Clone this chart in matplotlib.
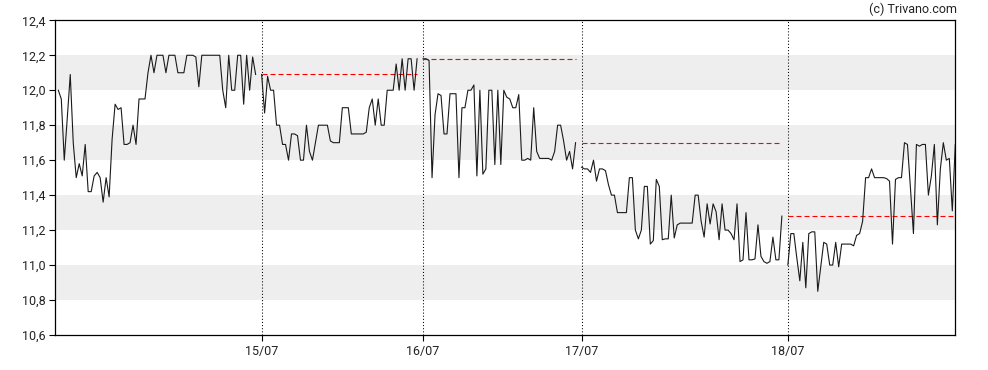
import numpy as np
import matplotlib
matplotlib.use("Agg")
import matplotlib.pyplot as plt

# ---- data ----
days = ["14/07", "15/07", "16/07", "17/07", "18/07"]

day14 = [12.00, 11.95, 11.60, 11.84, 12.09, 11.70, 11.50, 11.58, 11.51, 11.69,
         11.42, 11.42, 11.51, 11.53, 11.50, 11.36, 11.50, 11.39, 11.72, 11.92,
         11.89, 11.90, 11.69, 11.69, 11.70, 11.80, 11.69, 11.95, 11.95, 11.95,
         12.10, 12.20, 12.10, 12.20, 12.20, 12.20, 12.10, 12.20, 12.20, 12.20,
         12.10, 12.10, 12.10, 12.20, 12.20, 12.20, 12.19, 12.02, 12.20, 12.20,
         12.20, 12.20, 12.20, 12.20, 12.20, 12.00, 11.90, 12.20, 12.00, 12.00,
         12.20, 12.20, 11.92, 12.20, 12.00, 12.19, 12.09]

day15 = [12.09, 11.87, 12.08, 12.00, 12.00, 11.80, 11.80, 11.69, 11.69, 11.60,
         11.75, 11.75, 11.74, 11.60, 11.60, 11.80, 11.65, 11.60, 11.70, 11.80,
         11.80, 11.80, 11.80, 11.71, 11.70, 11.70, 11.70, 11.90, 11.90, 11.90,
         11.75, 11.75, 11.75, 11.75, 11.75, 11.76, 11.90, 11.95, 11.80, 11.95,
         11.80, 11.80, 12.00, 12.00, 12.00, 12.15, 12.00, 12.18, 12.00, 12.18,
         12.18, 12.00, 12.18]

day16 = [12.18, 12.18, 12.17, 11.50, 11.86, 11.98, 11.97, 11.75, 11.75, 11.98,
         11.98, 11.98, 11.50, 11.90, 11.90, 12.00, 12.00, 12.03, 11.51, 12.00,
         11.52, 11.55, 12.00, 12.00, 11.575, 12.00, 11.575, 12.00, 11.96, 11.95,
         11.90, 11.90, 11.975, 11.60, 11.60, 11.61, 11.60, 11.90, 11.65, 11.61,
         11.61, 11.61, 11.61, 11.60, 11.65, 11.80, 11.80, 11.71, 11.60, 11.65,
         11.55, 11.70]

day17 = [11.56, 11.55, 11.55, 11.53, 11.60, 11.48, 11.55, 11.55, 11.54, 11.46,
         11.40, 11.40, 11.30, 11.30, 11.30, 11.30, 11.50, 11.50, 11.20, 11.15,
         11.20, 11.45, 11.45, 11.12, 11.14, 11.49, 11.45, 11.145, 11.15, 11.15,
         11.40, 11.155, 11.23, 11.24, 11.24, 11.24, 11.24, 11.24, 11.40, 11.40,
         11.25, 11.16, 11.35, 11.235, 11.35, 11.305, 11.145, 11.35, 11.20, 11.20,
         11.18, 11.145, 11.35, 11.02, 11.03, 11.30, 11.03, 11.03, 11.035, 11.23,
         11.05, 11.02, 11.01, 11.02, 11.16, 11.03, 11.03, 11.28]

day18 = [11.00, 11.18, 11.18, 11.04, 10.91, 11.13, 10.87, 11.18, 11.19, 11.19,
         10.85, 10.99, 11.13, 11.12, 11.00, 11.00, 11.13, 10.99, 11.12, 11.12,
         11.12, 11.12, 11.11, 11.17, 11.18, 11.25, 11.50, 11.50, 11.55, 11.50,
         11.50, 11.50, 11.50, 11.495, 11.48, 11.12, 11.49, 11.50, 11.50, 11.70,
         11.69, 11.44, 11.18, 11.69, 11.68, 11.69, 11.69, 11.40, 11.51, 11.69,
         11.23, 11.55, 11.70, 11.60, 11.61, 11.31, 11.69]

series = [day14, day15, day16, day17, day18]

y_ticks = [10.6, 10.8, 11.0, 11.2, 11.4, 11.6, 11.8, 12.0, 12.2, 12.4]
y_labels = ["10,6", "10,8", "11,0", "11,2", "11,4", "11,6", "11,8", "12,0", "12,2", "12,4"]

# ---- plot ----
plt.rcParams['font.family'] = ['Roboto', 'DejaVu Sans']
fig = plt.figure(figsize=(9.88, 3.70), dpi=100)
ax = fig.add_axes([55.3 / 988, 35 / 370, 900 / 988, 314.7 / 370])

# alternating background bands
for i in range(len(y_ticks) - 1):
    if i % 2 == 1:
        ax.axhspan(y_ticks[i], y_ticks[i + 1], color='#eeeeee', lw=0, zorder=0)

start = 0
day_starts = []
prev_close = None
last_idx = 0
for vals in series:
    x = np.arange(start, start + len(vals))
    day_starts.append(start)
    ax.plot(x, vals, color='#1a1a1a', lw=0.8, zorder=3)
    if prev_close is not None:
        ax.hlines(prev_close, x[0], x[-1], colors='#ff0000',
                  lw=0.8, linestyles=(0, (4.5, 2.7)), zorder=2)
    prev_close = vals[-1]
    last_idx = x[-1]
    start += len(vals) + 1

tick_pos = day_starts[1:]
for p in tick_pos:
    ax.axvline(p, color='black', lw=0.75, linestyle=(0, (1, 2)), zorder=1)

ax.set_xlim(-1, last_idx)
ax.set_ylim(y_ticks[0], y_ticks[-1])
ax.set_xticks(tick_pos)
ax.set_xticklabels(days[1:])
ax.set_yticks(y_ticks)
ax.set_yticklabels(y_labels)
ax.tick_params(axis='both', length=4, width=0.8, color='black',
               labelsize=9, labelcolor='#222222', pad=3)
for s in ax.spines.values():
    s.set_color('black')
    s.set_linewidth(0.9)

fig.text(957 / 988, 1 - 9 / 370, "(c) Trivano.com", ha='right', va='center',
         fontsize=9, color='#222222')

fig.savefig("out.png", dpi=100)
